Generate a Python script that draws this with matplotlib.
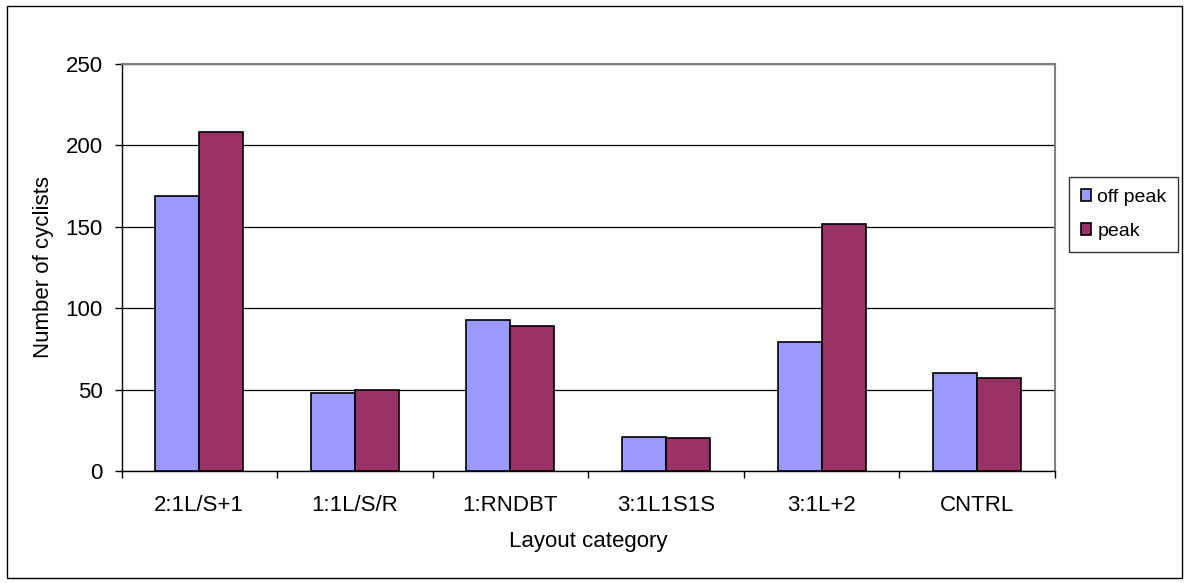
import matplotlib
matplotlib.use("Agg")
import matplotlib.pyplot as plt
import numpy as np
from matplotlib.patches import Rectangle

categories = ["2:1L/S+1", "1:1L/S/R", "1:RNDBT", "3:1L1S1S", "3:1L+2", "CNTRL"]
off_peak = [169, 48, 93, 21, 79, 60]
peak = [208, 50, 89, 20, 152, 57]
series_names = ["off peak", "peak"]
yticks = [0, 50, 100, 150, 200, 250]

plt.rcParams['font.family'] = ['Liberation Sans', 'DejaVu Sans']
FS = 16
W, H = 1189, 583
fig = plt.figure(figsize=(W / 100, H / 100), dpi=100)

# outer chart frame
fig.patches.append(Rectangle((7 / W, 1 - 578 / H), (1182 - 7) / W, (578 - 6) / H,
                             transform=fig.transFigure, fill=False,
                             edgecolor='black', linewidth=1.0))

left, right, top, bottom = 121.5, 1055, 64, 471
ax = fig.add_axes([left / W, 1 - bottom / H, (right - left) / W, (bottom - top) / H])

x = np.arange(len(categories))
bw = 0.283
ax.bar(x - bw / 2, off_peak, bw, color='#9999FF', edgecolor='black', linewidth=1.2,
       label=series_names[0], zorder=3)
ax.bar(x + bw / 2, peak, bw, color='#993366', edgecolor='black', linewidth=1.2,
       label=series_names[1], zorder=3)

ax.set_xlim(-0.5, len(categories) - 0.5)
ax.set_ylim(0, 250)
ax.set_yticks(yticks)
ax.set_yticklabels([str(v) for v in yticks], fontsize=FS)
ax.yaxis.grid(True, color='black', linewidth=0.9, zorder=0)
ax.set_axisbelow(True)

ax.set_xticks(x)
ax.set_xticklabels(categories, fontsize=FS)
ax.tick_params(axis='x', length=0, pad=17)
ax.set_xticks(np.arange(len(categories) + 1) - 0.5, minor=True)
ax.tick_params(axis='x', which='minor', length=5, width=1, direction='out')
ax.tick_params(axis='y', length=5, width=1, direction='out', pad=8.5)

for s in ['top', 'right']:
    ax.spines[s].set_color('#808080')
    ax.spines[s].set_linewidth(1.5)
for s in ['left', 'bottom']:
    ax.spines[s].set_color('black')
    ax.spines[s].set_linewidth(1.0)

ax.set_ylabel("Number of cyclists", fontsize=FS, labelpad=8)
ax.set_xlabel("Layout category", fontsize=FS, labelpad=11)

leg = fig.legend(loc='upper left', bbox_to_anchor=(1069 / W, 1 - 177 / H),
                 frameon=True, fancybox=False, fontsize=14, handlelength=0.55,
                 handleheight=0.55, handletextpad=0.3, labelspacing=0.9,
                 borderpad=0.6, edgecolor='black', borderaxespad=0)
leg.get_frame().set_linewidth(1.0)

fig.savefig("out.png", dpi=100)
